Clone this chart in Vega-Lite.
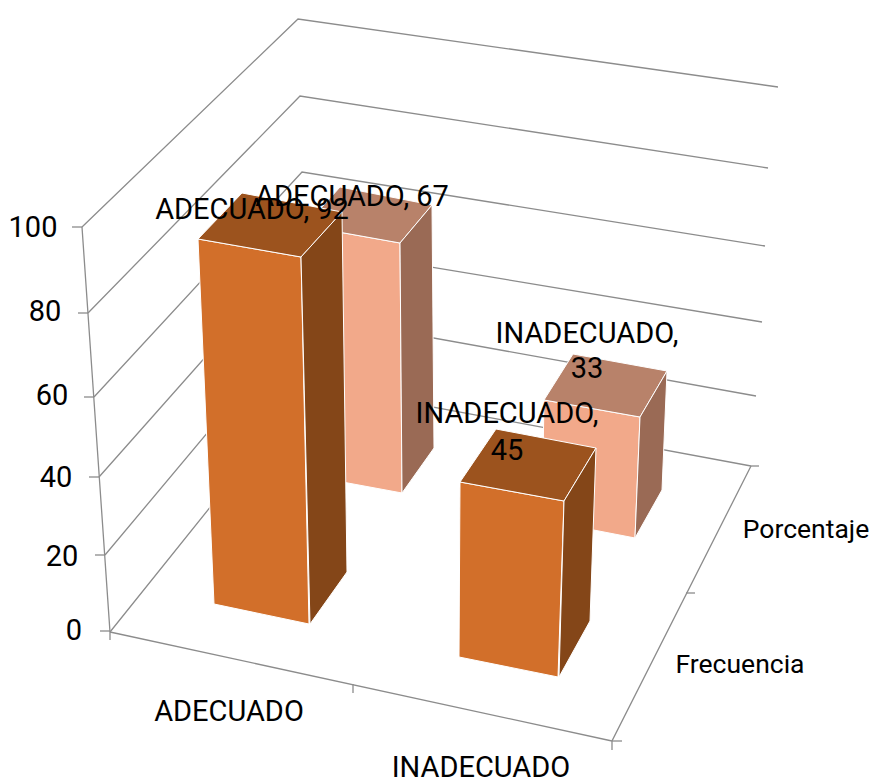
{"$schema":"https://vega.github.io/schema/vega-lite/v6.json","width":870,"height":781,"padding":0,"autosize":{"type":"none"},"background":"white","view":{"stroke":null},
"datasets":{
"grid":[
{"l":"w0","o":1,"x":110,"y":632},{"l":"w0","o":2,"x":309,"y":384},{"l":"w0","o":3,"x":751,"y":466},
{"l":"w20","o":1,"x":105,"y":555},{"l":"w20","o":2,"x":306,"y":315},{"l":"w20","o":3,"x":756,"y":396},
{"l":"w40","o":1,"x":99,"y":477},{"l":"w40","o":2,"x":304,"y":246},{"l":"w40","o":3,"x":762,"y":322},
{"l":"w60","o":1,"x":94,"y":397},{"l":"w60","o":2,"x":302,"y":172},{"l":"w60","o":3,"x":765,"y":246},
{"l":"w80","o":1,"x":88,"y":313},{"l":"w80","o":2,"x":300,"y":96},{"l":"w80","o":3,"x":768,"y":168},
{"l":"w100","o":1,"x":82,"y":227},{"l":"w100","o":2,"x":298,"y":19},{"l":"w100","o":3,"x":778,"y":87},
{"l":"axisY","o":1,"x":110,"y":640},{"l":"axisY","o":2,"x":110,"y":632},{"l":"axisY","o":3,"x":82,"y":227},
{"l":"axisX","o":1,"x":110,"y":632},{"l":"axisX","o":2,"x":612,"y":741},
{"l":"axisZ","o":1,"x":612,"y":750},{"l":"axisZ","o":2,"x":612,"y":741},{"l":"axisZ","o":3,"x":751,"y":466},
{"l":"t0","o":1,"x":100,"y":631},{"l":"t0","o":2,"x":110,"y":631},
{"l":"t20","o":1,"x":95,"y":555},{"l":"t20","o":2,"x":105,"y":555},
{"l":"t40","o":1,"x":89,"y":477},{"l":"t40","o":2,"x":99,"y":477},
{"l":"t60","o":1,"x":84,"y":397},{"l":"t60","o":2,"x":94,"y":397},
{"l":"t80","o":1,"x":78,"y":313},{"l":"t80","o":2,"x":88,"y":313},
{"l":"t100","o":1,"x":72,"y":227},{"l":"t100","o":2,"x":82,"y":227},
{"l":"tx","o":1,"x":353,"y":684},{"l":"tx","o":2,"x":353,"y":693},
{"l":"tz0","o":1,"x":612,"y":741},{"l":"tz0","o":2,"x":622,"y":741},
{"l":"tz1","o":1,"x":686,"y":593},{"l":"tz1","o":2,"x":695,"y":593},
{"l":"tz2","o":1,"x":751,"y":466},{"l":"tz2","o":2,"x":759,"y":466}
],
"faces":[
{"f":"a1 ADECUADO Porcentaje frente","o":1,"x":305,"y":226},{"f":"a1 ADECUADO Porcentaje frente","o":2,"x":400,"y":243},{"f":"a1 ADECUADO Porcentaje frente","o":3,"x":402,"y":493},{"f":"a1 ADECUADO Porcentaje frente","o":4,"x":310,"y":476},{"f":"a1 ADECUADO Porcentaje frente","o":5,"x":305,"y":226},
{"f":"a2 ADECUADO Porcentaje techo","o":1,"x":305,"y":226},{"f":"a2 ADECUADO Porcentaje techo","o":2,"x":400,"y":243},{"f":"a2 ADECUADO Porcentaje techo","o":3,"x":432,"y":205},{"f":"a2 ADECUADO Porcentaje techo","o":4,"x":340,"y":187},{"f":"a2 ADECUADO Porcentaje techo","o":5,"x":305,"y":226},
{"f":"a3 ADECUADO Porcentaje lado","o":1,"x":400,"y":243},{"f":"a3 ADECUADO Porcentaje lado","o":2,"x":432,"y":205},{"f":"a3 ADECUADO Porcentaje lado","o":3,"x":434,"y":448},{"f":"a3 ADECUADO Porcentaje lado","o":4,"x":402,"y":493},{"f":"a3 ADECUADO Porcentaje lado","o":5,"x":400,"y":243},
{"f":"b1 INADECUADO Porcentaje frente","o":1,"x":544,"y":400},{"f":"b1 INADECUADO Porcentaje frente","o":2,"x":640,"y":417},{"f":"b1 INADECUADO Porcentaje frente","o":3,"x":635,"y":538},{"f":"b1 INADECUADO Porcentaje frente","o":4,"x":542,"y":520},{"f":"b1 INADECUADO Porcentaje frente","o":5,"x":544,"y":400},
{"f":"b2 INADECUADO Porcentaje techo","o":1,"x":544,"y":400},{"f":"b2 INADECUADO Porcentaje techo","o":2,"x":640,"y":417},{"f":"b2 INADECUADO Porcentaje techo","o":3,"x":667,"y":371},{"f":"b2 INADECUADO Porcentaje techo","o":4,"x":573,"y":354},{"f":"b2 INADECUADO Porcentaje techo","o":5,"x":544,"y":400},
{"f":"b3 INADECUADO Porcentaje lado","o":1,"x":640,"y":417},{"f":"b3 INADECUADO Porcentaje lado","o":2,"x":667,"y":371},{"f":"b3 INADECUADO Porcentaje lado","o":3,"x":662,"y":490},{"f":"b3 INADECUADO Porcentaje lado","o":4,"x":635,"y":538},{"f":"b3 INADECUADO Porcentaje lado","o":5,"x":640,"y":417},
{"f":"c1 ADECUADO Frecuencia frente","o":1,"x":198,"y":239},{"f":"c1 ADECUADO Frecuencia frente","o":2,"x":301,"y":257},{"f":"c1 ADECUADO Frecuencia frente","o":3,"x":309,"y":624},{"f":"c1 ADECUADO Frecuencia frente","o":4,"x":214,"y":604},{"f":"c1 ADECUADO Frecuencia frente","o":5,"x":198,"y":239},
{"f":"c2 ADECUADO Frecuencia techo","o":1,"x":198,"y":239},{"f":"c2 ADECUADO Frecuencia techo","o":2,"x":301,"y":257},{"f":"c2 ADECUADO Frecuencia techo","o":3,"x":342,"y":212},{"f":"c2 ADECUADO Frecuencia techo","o":4,"x":242,"y":193},{"f":"c2 ADECUADO Frecuencia techo","o":5,"x":198,"y":239},
{"f":"c3 ADECUADO Frecuencia lado","o":1,"x":301,"y":257},{"f":"c3 ADECUADO Frecuencia lado","o":2,"x":342,"y":212},{"f":"c3 ADECUADO Frecuencia lado","o":3,"x":347,"y":572},{"f":"c3 ADECUADO Frecuencia lado","o":4,"x":310,"y":624},{"f":"c3 ADECUADO Frecuencia lado","o":5,"x":301,"y":257},
{"f":"d1 INADECUADO Frecuencia frente","o":1,"x":460,"y":482},{"f":"d1 INADECUADO Frecuencia frente","o":2,"x":564,"y":501},{"f":"d1 INADECUADO Frecuencia frente","o":3,"x":558,"y":677},{"f":"d1 INADECUADO Frecuencia frente","o":4,"x":459,"y":657},{"f":"d1 INADECUADO Frecuencia frente","o":5,"x":460,"y":482},
{"f":"d2 INADECUADO Frecuencia techo","o":1,"x":460,"y":482},{"f":"d2 INADECUADO Frecuencia techo","o":2,"x":564,"y":501},{"f":"d2 INADECUADO Frecuencia techo","o":3,"x":596,"y":448},{"f":"d2 INADECUADO Frecuencia techo","o":4,"x":496,"y":429},{"f":"d2 INADECUADO Frecuencia techo","o":5,"x":460,"y":482},
{"f":"d3 INADECUADO Frecuencia lado","o":1,"x":564,"y":501},{"f":"d3 INADECUADO Frecuencia lado","o":2,"x":596,"y":448},{"f":"d3 INADECUADO Frecuencia lado","o":3,"x":590,"y":621},{"f":"d3 INADECUADO Frecuencia lado","o":4,"x":559,"y":677},{"f":"d3 INADECUADO Frecuencia lado","o":5,"x":564,"y":501}
],
"labels":[
{"t":"100","x":33,"y":228},{"t":"80","x":45,"y":312},{"t":"60","x":52,"y":396},{"t":"40","x":56,"y":478},{"t":"20","x":62,"y":557},{"t":"0","x":74,"y":631},
{"t":"ADECUADO","x":229,"y":712},{"t":"INADECUADO","x":481,"y":768},
{"t":"ADECUADO, 67","x":352,"y":197},{"t":"ADECUADO, 92","x":252,"y":210},
{"t":"INADECUADO,","x":587,"y":334},{"t":"33","x":587,"y":369},{"t":"INADECUADO,","x":507,"y":414},{"t":"45","x":507,"y":451}
],
"series":[{"t":"Porcentaje","x":806,"y":530},{"t":"Frecuencia","x":740,"y":665}]
},
"layer":[
{"data":{"name":"grid"},"mark":{"type":"line","stroke":"#8c8c8c","strokeWidth":1.3},
"encoding":{"x":{"field":"x","type":"quantitative","scale":{"domain":[0,870]},"axis":null},"y":{"field":"y","type":"quantitative","scale":{"domain":[781,0]},"axis":null},"detail":{"field":"l"},"order":{"field":"o"}}},
{"data":{"name":"faces"},"mark":{"type":"line","stroke":"white","strokeWidth":1,"strokeJoin":"round"},
"encoding":{"x":{"field":"x","type":"quantitative","scale":{"domain":[0,870]},"axis":null},"y":{"field":"y","type":"quantitative","scale":{"domain":[781,0]},"axis":null},"order":{"field":"o"},
"fill":{"field":"f","type":"nominal","legend":null,"scale":{"domain":["a1 ADECUADO Porcentaje frente","a2 ADECUADO Porcentaje techo","a3 ADECUADO Porcentaje lado","b1 INADECUADO Porcentaje frente","b2 INADECUADO Porcentaje techo","b3 INADECUADO Porcentaje lado","c1 ADECUADO Frecuencia frente","c2 ADECUADO Frecuencia techo","c3 ADECUADO Frecuencia lado","d1 INADECUADO Frecuencia frente","d2 INADECUADO Frecuencia techo","d3 INADECUADO Frecuencia lado"],"range":["#f2a98a","#b8826a","#9a6a55","#f2a98a","#b8826a","#9a6a55","#d26f2a","#9c531e","#844618","#d26f2a","#9c531e","#844618"]}}}},
{"data":{"name":"labels"},"mark":{"type":"text","font":"Roboto","fontSize":29,"align":"center","baseline":"middle","color":"black"},
"encoding":{"x":{"field":"x","type":"quantitative","scale":{"domain":[0,870]},"axis":null},"y":{"field":"y","type":"quantitative","scale":{"domain":[781,0]},"axis":null},"text":{"field":"t"}}},
{"data":{"name":"series"},"mark":{"type":"text","font":"Roboto","fontSize":26.5,"align":"center","baseline":"middle","color":"black"},
"encoding":{"x":{"field":"x","type":"quantitative","scale":{"domain":[0,870]},"axis":null},"y":{"field":"y","type":"quantitative","scale":{"domain":[781,0]},"axis":null},"text":{"field":"t"}}}
]}
